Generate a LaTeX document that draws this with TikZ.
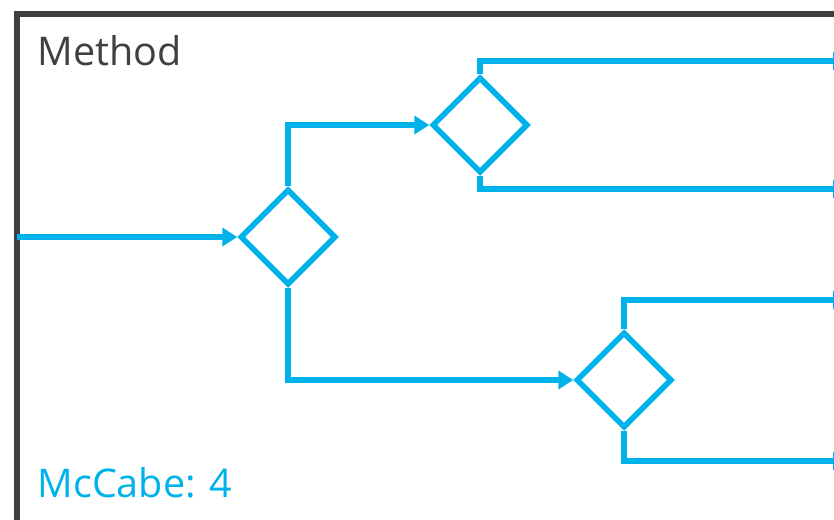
\documentclass[tikz,border=0pt]{standalone}
\usepackage{fontspec}
\setmainfont{Open Sans}
\usepackage{xcolor}
\usetikzlibrary{positioning}
\usetikzlibrary{arrows.meta}
\usetikzlibrary{shapes.geometric}

\definecolor{flowblue}{HTML}{00B2EA}
\definecolor{framegray}{HTML}{404040}

\tikzset{
  flow/.style={draw=flowblue, line width=5.5pt,
               -{Triangle[length=15pt,width=18pt]}},
  decision/.style={diamond, draw=flowblue, line width=5.5pt,
                   minimum width=96pt, minimum height=96pt, inner sep=0pt}
}

\begin{document}
\begin{tikzpicture}[x=1pt,y=-1pt]
\clip (0,0) rectangle (834,519);
\useasboundingbox (0,0) rectangle (834,519);

% method frame, runs off the page
\draw[framegray, line width=6pt] (17,600) -- (17,14) -- (900,14);
\node[anchor=base west, text=framegray, font=\fontsize{39.5}{42}\selectfont] (title) at (34,66) {Method};
\node[anchor=base west, text=flowblue, font=\fontsize{39.5}{42}\selectfont] (score) at (34,497) {McCabe: 4};

\begin{scope}[every node/.style={decision}]
   \node (d1) at (288,237) {};
   \node (d2) at (480,125) {};
   \node (d3) at (624,380) {};
\end{scope}

\coordinate (in) at (17,237);
\coordinate (o1) at (848,61);
\coordinate (o2) at (848,189);
\coordinate (o3) at (848,300);
\coordinate (o4) at (848,461);

\path [flow] (in) -- (d1.west);
\path [flow] (d1.north) |- (d2.west);
\path [flow] (d1.south) |- (d3.west);

\path [flow] (d2.north) |- (o1);
\path [flow] (d2.south) |- (o2);
\path [flow] (d3.north) |- (o3);
\path [flow] (d3.south) |- (o4);
\end{tikzpicture}
\end{document}
